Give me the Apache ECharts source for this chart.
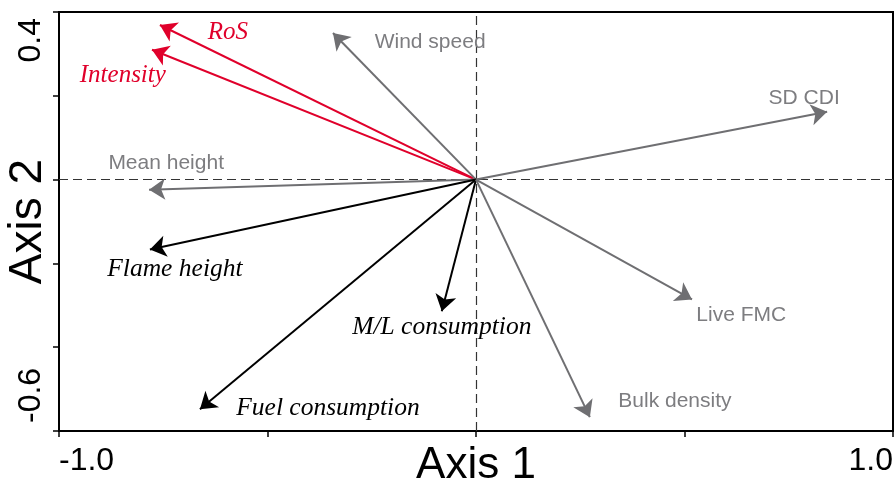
<!DOCTYPE html>
<html>
<head>
<meta charset="utf-8">
<title>Ordination biplot</title>
<script src="https://cdn.jsdelivr.net/npm/echarts@6/dist/echarts.min.js"></script>
<style>
  html, body { margin: 0; padding: 0; background: #fff; }
  #chart { width: 895px; height: 484px; }
</style>
</head>
<body>
<div id="chart"></div>
<script>
// Variable loadings on the first two ordination axes
const variables = ['RoS', 'Intensity', 'Wind speed', 'SD CDI', 'Mean height',
  'Flame height', 'M/L consumption', 'Fuel consumption', 'Live FMC', 'Bulk density'];
const axis1 = [-0.758, -0.777, -0.343, 0.842, -0.784, -0.782, -0.082, -0.662, 0.518, 0.273];
const axis2 = [0.369, 0.310, 0.350, 0.162, -0.024, -0.167, -0.314, -0.548, -0.286, -0.567];
// Where each variable name is written
const labelAxis1 = [-0.595, -0.847, -0.110, 0.787, -0.743, -0.722, -0.082, -0.355, 0.636, 0.477];
const labelAxis2 = [0.352, 0.248, 0.329, 0.195, 0.038, -0.214, -0.352, -0.545, -0.324, -0.529];
// Variable group: fire behaviour response, fuel/weather predictor, fire effect
const groups = ['behaviour', 'behaviour', 'predictor', 'predictor', 'predictor',
  'effect', 'effect', 'effect', 'predictor', 'predictor'];
// Axis tick labels
const xTickLabels = ['-1.0', '1.0'];
const yTickLabels = ['-0.6', '0.4'];

const groupStyle = {
  behaviour: { line: '#E0002B', text: '#E0002B', font: '"Liberation Serif", "DejaVu Serif", serif', italic: true, size: 25 },
  predictor: { line: '#6F6F72', text: '#7D7D80', font: '"Liberation Sans", Arial, sans-serif', italic: false, size: 21 },
  effect:    { line: '#000000', text: '#000000', font: '"Liberation Serif", "DejaVu Serif", serif', italic: true, size: 25.5 }
};

const arrowData = variables.map((name, i) => ({
  name: name,
  coords: [[0, 0], [axis1[i], axis2[i]]],
  lineStyle: { color: groupStyle[groups[i]].line }
}));

const labelData = variables.map((name, i) => {
  const g = groupStyle[groups[i]];
  return {
    name: name,
    value: [labelAxis1[i], labelAxis2[i]],
    label: {
      color: g.text,
      fontFamily: g.font,
      fontStyle: g.italic ? 'italic' : 'normal',
      fontSize: g.size
    }
  };
});

function near(v, t) { return Math.abs(v - t) < 1e-6; }

const chart = echarts.init(document.getElementById('chart'), null, { renderer: 'canvas' });
chart.setOption({
  animation: false,
  backgroundColor: '#ffffff',
  grid: {
    left: 59, right: 2, top: 12, bottom: 53,
    containLabel: false,
    outerBoundsMode: 'none',
    show: true, borderColor: '#000', borderWidth: 2
  },
  xAxis: {
    type: 'value',
    min: -1, max: 1, interval: 0.5,
    name: 'Axis 1',
    nameLocation: 'middle',
    nameGap: 13,
    nameMoveOverlap: false,
    nameTextStyle: { fontFamily: '"Liberation Sans", Arial, sans-serif', fontSize: 44, color: '#000' },
    axisLine: { show: true, onZero: false, lineStyle: { color: '#000', width: 2 } },
    axisTick: { show: true, length: 6, lineStyle: { color: '#000', width: 1.5 } },
    splitLine: { show: false },
    axisLabel: {
      margin: 14,
      fontFamily: '"Liberation Sans", Arial, sans-serif',
      fontSize: 32,
      color: '#000',
      alignMinLabel: 'left',
      alignMaxLabel: 'right',
      formatter: v => near(v, -1) ? xTickLabels[0] : near(v, 1) ? xTickLabels[1] : ''
    }
  },
  yAxis: {
    type: 'value',
    min: -0.6, max: 0.4, interval: 0.2,
    name: 'Axis 2',
    nameLocation: 'middle',
    nameGap: 8,
    nameMoveOverlap: false,
    nameTextStyle: { fontFamily: '"Liberation Sans", Arial, sans-serif', fontSize: 46, color: '#000' },
    axisLine: { show: true, onZero: false, lineStyle: { color: '#000', width: 2 } },
    axisTick: { show: true, length: 6, lineStyle: { color: '#000', width: 1.5 } },
    splitLine: { show: false },
    axisLabel: {
      rotate: 90,
      margin: 12,
      padding: [0, 6, 0, 8],
      fontFamily: '"Liberation Sans", Arial, sans-serif',
      fontSize: 32,
      color: '#000',
      alignMinLabel: 'left',
      alignMaxLabel: 'right',
      formatter: v => near(v, -0.6) ? yTickLabels[0] : near(v, 0.4) ? yTickLabels[1] : ''
    }
  },
  series: [
    {
      // variable names, plus the dashed zero reference lines
      type: 'scatter',
      symbolSize: 1,
      itemStyle: { color: 'rgba(0,0,0,0)' },
      label: { show: true, position: 'inside', formatter: '{b}', textBorderWidth: 0, opacity: 1 },
      data: labelData,
      z: 3,
      silent: true,
      markLine: {
        silent: true,
        symbol: 'none',
        label: { show: false },
        lineStyle: { color: '#333', width: 1.2, type: [9, 5] },
        data: [{ xAxis: 0 }, { yAxis: 0 }],
        z: 1
      }
    },
    {
      // loading vectors from the origin
      type: 'lines',
      coordinateSystem: 'cartesian2d',
      symbol: ['none', 'arrow'],
      symbolSize: [11, 16],
      lineStyle: { width: 2, opacity: 1, curveness: 0 },
      data: arrowData,
      z: 4,
      silent: true
    }
  ]
});
</script>
</body>
</html>
